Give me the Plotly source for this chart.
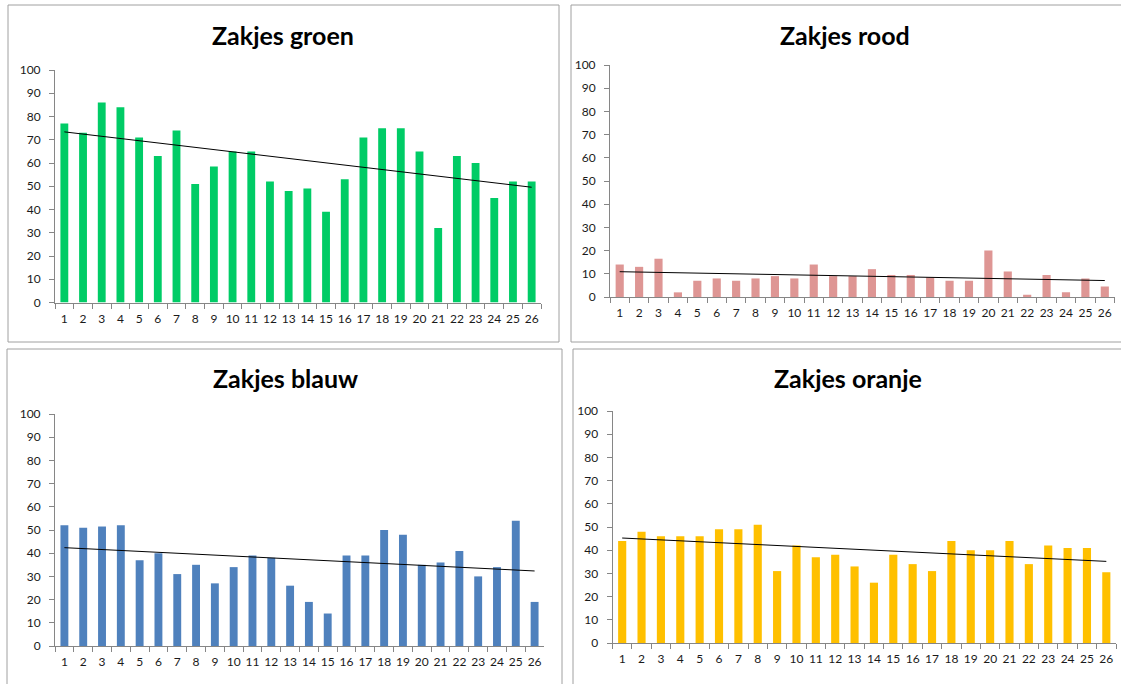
import numpy as np
import plotly.graph_objects as go

categories = [str(i) for i in range(1, 27)]

groen = [77, 73, 86, 84, 71, 63, 74, 51, 58.5, 65, 65, 52, 48, 49, 39, 53, 71, 75, 75, 65, 32, 63, 60, 45, 52, 52]
rood = [14, 13, 16.5, 2, 7, 8, 7, 8, 9, 8, 14, 9, 9, 12, 9.5, 9.5, 8.5, 7, 7, 20, 11, 1, 9.5, 2, 8, 4.5]
blauw = [52, 51, 51.5, 52, 37, 40, 31, 35, 27, 34, 39, 38, 26, 19, 14, 39, 39, 50, 48, 35, 36, 41, 30, 34, 54, 19]
oranje = [44, 48, 46, 46, 46, 49, 49, 51, 31, 42, 37, 38, 33, 26, 38, 34, 31, 44, 40, 40, 44, 34, 42, 41, 41, 30.5]

titles = ["Zakjes groen", "Zakjes rood", "Zakjes blauw", "Zakjes oranje"]
colors = ["#00CC66", "#DE9694", "#4F81BD", "#FFC000"]
series = [groen, rood, blauw, oranje]
y_ticks = list(range(0, 101, 10))

W, H = 1121, 684

# plot-area pixel boxes: (x0, x1, y_bottom, y_top)
boxes = [
    (55, 541, 302.5, 70),
    (610, 1114.5, 297, 65),
    (55, 544, 646, 414),
    (612.5, 1116, 643, 411),
]
title_pos = [(283, 35), (845, 35), (285, 378), (848, 378)]
panels = [
    (8, 559, 5, 342),
    (571, 1125, 5, 342),
    (7, 562, 349, 690),
    (573, 1125, 349, 690),
]

fig = go.Figure()
layout = dict(
    width=W, height=H,
    margin=dict(l=0, r=0, t=0, b=0, autoexpand=False),
    paper_bgcolor="white", plot_bgcolor="white",
    showlegend=False, bargap=0.58,
    font=dict(family="Lato, Open Sans, sans-serif", size=12, color="#1a1a1a"),
    annotations=[], shapes=[],
)

xnum = np.arange(1, 27)
for i, (vals, col) in enumerate(zip(series, colors)):
    n = "" if i == 0 else str(i + 1)
    xa, ya = "x" + n, "y" + n
    fig.add_trace(go.Bar(x=categories, y=vals, marker=dict(color=col, line=dict(width=0)),
                         xaxis=xa, yaxis=ya))
    slope, icpt = np.polyfit(xnum, np.array(vals, dtype=float), 1)
    fig.add_trace(go.Scatter(x=categories, y=slope * xnum + icpt, mode="lines",
                             line=dict(color="black", width=1), xaxis=xa, yaxis=ya))
    x0, x1, yb, yt = boxes[i]
    layout["xaxis" + n] = dict(
        domain=[x0 / W, x1 / W], anchor=ya, type="category",
        range=[-0.5, 25.5], tickson="boundaries", ticks="outside", ticklen=5,
        tickcolor="#868686", showline=True, linecolor="#868686", linewidth=1,
        showgrid=False, zeroline=False, tickfont=dict(size=12), tickangle=0,
        ticklabelstandoff=5, automargin=False, fixedrange=True,
    )
    layout["yaxis" + n] = dict(
        domain=[1 - yb / H, 1 - yt / H], anchor=xa, range=[0, 100],
        tickvals=y_ticks, ticks="outside", ticklen=5, tickcolor="#868686",
        showline=True, linecolor="#868686", linewidth=1, showgrid=False,
        zeroline=False, tickfont=dict(size=12), ticklabelstandoff=6, automargin=False,
    )
    tx, ty = title_pos[i]
    layout["annotations"].append(dict(
        text="<b>" + titles[i] + "</b>", x=tx / W, y=1 - ty / H, xref="paper", yref="paper",
        showarrow=False, xanchor="center", yanchor="middle",
        font=dict(size=25, family="Lato, Open Sans, sans-serif", color="black"),
    ))
    px0, px1, py0, py1 = panels[i]
    layout["shapes"].append(dict(
        type="rect", xref="paper", yref="paper", x0=px0 / W, x1=px1 / W,
        y0=1 - py1 / H, y1=1 - py0 / H, line=dict(color="#A0A0A0", width=1),
        fillcolor="rgba(0,0,0,0)", layer="below",
    ))

fig.update_layout(**layout)
fig.write_html("out.html", config={"displayModeBar": False},
               post_script="document.body.style.margin='0';document.body.style.overflow='hidden';")
